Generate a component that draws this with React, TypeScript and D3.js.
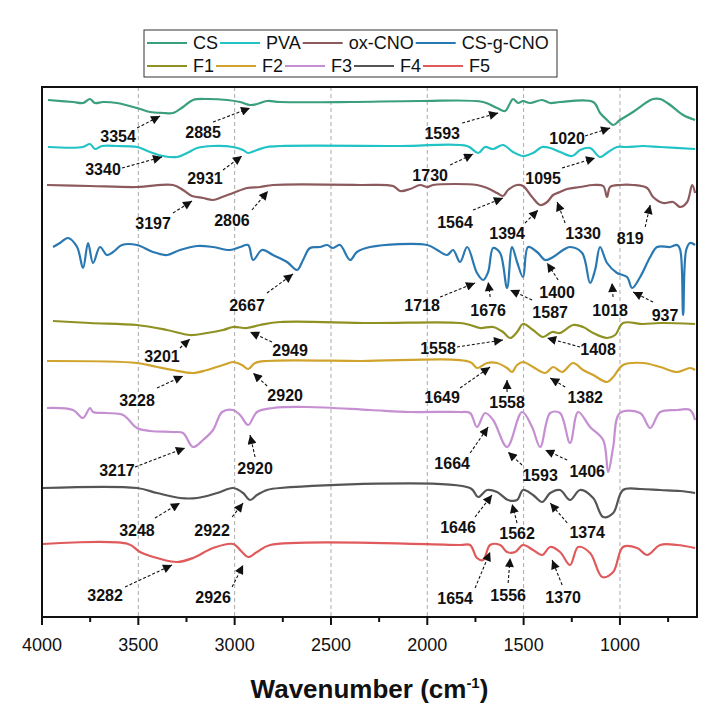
import React from "react";
import * as d3 from "d3";

// ---- axis ----
const xTicksMajor = [4000, 3500, 3000, 2500, 2000, 1500, 1000];
const xTicksMinor = [3750, 3250, 2750, 2250, 1750, 1250, 750];
const gridLines = [3500, 3000, 2500, 2000, 1500, 1000];

// ---- series (wavenumber, relative transmittance) ----
const seriesNames = ["CS", "PVA", "ox-CNO", "CS-g-CNO", "F1", "F2", "F3", "F4", "F5"];
const seriesColors = ["#3a9f7b", "#22c3c6", "#8c5a5c", "#2a78b2", "#8f9122", "#d0a42c", "#c58fd2", "#555555", "#e05a5c"];
const seriesOffsets = [515, 471, 432, 372, 294, 256, 209, 129, 73];

const csData = [[3969,2],[3839,0],[3787,-1],[3751,3],[3725,-1],[3683,0],[3611,-1],[3507,-6],[3439,-10],[3372,-11],[3320,-11],[3268,-5],[3216,2],[3143,3],[3039,2],[2972,0],[2920,-3],[2884,-2],[2832,1],[2764,0],[2401,0],[2037,1],[1710,0],[1638,-6],[1596,-9],[1570,-1],[1555,3],[1529,-1],[1503,1],[1467,-1],[1404,2],[1362,-1],[1311,0],[1139,0],[1103,-11],[1067,-18],[1035,-23],[1000,-18],[932,-10],[859,0],[828,3],[791,3],[739,-3],[672,-13],[610,-18]];
const pvaData = [[3969,-1],[3787,-1],[3751,2],[3725,-3],[3688,0],[3611,0],[3507,-1],[3439,-6],[3372,-10],[3299,-11],[3247,-7],[3195,-2],[3112,0],[3008,-1],[2956,-4],[2930,-7],[2884,-4],[2832,-1],[2764,0],[2141,0],[1793,0],[1736,-7],[1700,-1],[1658,-3],[1607,1],[1555,-6],[1503,-10],[1451,-7],[1404,-1],[1362,-2],[1311,-6],[1248,-10],[1207,-4],[1155,-2],[1103,-11],[1061,-6],[1015,-1],[963,-1],[880,0],[791,-1],[610,-3]];
const oxData = [[3974,0],[3751,-1],[3507,-2],[3320,0],[3268,-5],[3221,-11],[3164,-13],[3112,-15],[3065,-12],[3008,-8],[2936,-3],[2868,-2],[2801,0],[2349,0],[2178,-1],[2141,-6],[2089,-4],[2037,0],[2001,-2],[1970,0],[1742,0],[1690,-3],[1638,-8],[1607,-11],[1581,-5],[1534,0],[1503,-1],[1456,-12],[1414,-20],[1378,-17],[1347,-10],[1311,-7],[1274,-4],[1207,-2],[1139,0],[1087,-1],[1067,-12],[1051,-2],[1000,0],[932,0],[859,-3],[828,-12],[776,-18],[724,-17],[687,-22],[651,-17],[625,0],[610,-8]];
const csgData = [[3943,-2],[3907,2],[3865,7],[3818,-2],[3787,-23],[3761,2],[3735,-18],[3699,-2],[3663,-10],[3631,-7],[3585,0],[3507,0],[3424,-7],[3351,-10],[3284,-5],[3195,-1],[3112,-2],[3024,-5],[2972,-2],[2930,0],[2904,-15],[2858,-5],[2801,-10],[2728,-17],[2676,-25],[2645,-15],[2609,-3],[2557,-2],[2520,0],[2489,-3],[2453,0],[2401,-15],[2365,-7],[2297,-2],[2001,0],[1949,-5],[1897,-10],[1866,-5],[1830,-17],[1793,-2],[1742,-28],[1710,-35],[1684,-27],[1658,-3],[1622,-8],[1586,-43],[1560,-2],[1534,-17],[1503,-32],[1477,-2],[1430,-7],[1388,-15],[1347,-12],[1295,-5],[1259,-2],[1196,-8],[1155,-38],[1129,-25],[1103,-2],[1067,-18],[1015,-28],[963,-32],[937,-43],[895,-32],[843,-12],[807,-2],[739,-2],[703,0],[687,-5],[672,-70],[656,-5],[636,2],[610,0]];
const f1Data = [[3943,2],[3751,0],[3507,-2],[3351,-7],[3232,-12],[3143,-10],[3060,-7],[3008,-4],[2936,-5],[2868,-2],[2764,1],[2297,0],[1830,0],[1778,-2],[1726,-5],[1658,-4],[1607,-9],[1570,-15],[1534,-9],[1503,-1],[1451,-7],[1399,-14],[1352,-9],[1311,-10],[1243,-2],[1191,-4],[1139,-10],[1067,-15],[1025,-12],[984,0],[880,-1],[791,0],[610,-1]];
const f2Data = [[3974,0],[3507,-2],[3403,-6],[3320,-9],[3216,-12],[3143,-9],[3060,-4],[3008,-1],[2962,-4],[2930,-8],[2894,-2],[2832,0],[2349,0],[1778,-1],[1742,-7],[1690,-2],[1638,-2],[1586,-7],[1560,-11],[1534,-4],[1503,-1],[1451,-6],[1388,-12],[1347,-6],[1300,-11],[1243,-2],[1191,-9],[1139,-14],[1067,-21],[1035,-16],[984,-4],[880,-2],[791,-6],[703,-11],[636,-7],[610,-9]];
const f3Data = [[3974,0],[3839,-2],[3787,-10],[3751,0],[3735,-4],[3663,-5],[3579,-7],[3507,-20],[3439,-23],[3320,-24],[3268,-25],[3216,-39],[3164,-32],[3112,-22],[3065,-4],[3008,-2],[2972,-7],[2930,-17],[2884,-4],[2801,0],[2624,1],[2297,-2],[2089,-4],[1830,-4],[1778,-5],[1742,-19],[1700,-5],[1658,-12],[1586,-39],[1508,-4],[1456,-19],[1414,-39],[1362,-5],[1311,-5],[1259,-35],[1217,-4],[1155,-19],[1087,-32],[1061,-64],[1035,-39],[1000,-5],[895,-5],[843,-20],[791,-4],[703,-2],[636,-2],[610,-12]];
const f4Data = [[3995,0],[3507,0],[3403,-5],[3284,-10],[3195,-10],[3091,-5],[3008,0],[2956,-5],[2920,-12],[2884,-7],[2832,-2],[2764,0],[1778,0],[1736,-9],[1690,-2],[1638,-4],[1581,-12],[1534,-12],[1503,-2],[1451,-7],[1404,-14],[1362,-5],[1311,-2],[1259,-12],[1207,-2],[1139,-10],[1087,-29],[1035,-25],[984,-2],[895,-1],[791,-2],[687,-3],[610,-5]];
const f5Data = [[3995,0],[3553,0],[3491,-8],[3403,-14],[3299,-18],[3216,-14],[3112,-4],[3008,0],[2962,-8],[2930,-13],[2884,-8],[2816,-1],[1830,-1],[1778,-1],[1742,-14],[1710,-16],[1674,-1],[1622,-1],[1586,-8],[1544,-8],[1503,-1],[1451,-6],[1404,-11],[1362,-3],[1311,-8],[1259,-21],[1217,-3],[1155,-9],[1092,-33],[1035,-28],[984,-3],[911,-4],[859,-11],[791,-1],[703,-1],[610,-4]];
const seriesData = [csData, pvaData, oxData, csgData, f1Data, f2Data, f3Data, f4Data, f5Data];

// ---- peak annotations: label, tip wavenumber, tip value, text dx/dy, tail dx/dy ----
const peakLabels = ["3354","2885","3340","2931","3197","2806","2667","1593","1020","1730","1095","1564","1394","1330","819","1718","1676","1587","1400","1018","937","3201","2949","3228","2920","3217","2920","3248","2922","3282","2926","1558","1408","1649","1558","1382","1664","1593","1406","1646","1562","1374","1654","1556","1370"];
const peakTips = [[3387,501],[2920,509],[3377,460],[2962,461],[3221,416],[2827,426],[2697,343],[1632,504],[1051,489],[1762,463],[1129,459],[1607,419],[1425,407],[1326,415],[843,412],[1752,334],[1684,335],[1570,327],[1378,354],[1041,334],[932,325],[3232,278],[2920,285],[3268,241],[2904,244],[3258,169],[2920,182],[3284,114],[2956,114],[3325,52],[2956,52],[1607,277],[1378,279],[1674,250],[1586,237],[1362,239],[1684,190],[1581,165],[1388,167],[1664,122],[1560,113],[1362,114],[1674,65],[1570,59],[1352,57]];
const peakTextOffsets = [[-42,20],[-47,24],[-59,12],[-37,22],[-39,22],[-36,29],[-46,31],[-56,20],[-43,10],[-43,21],[-52,20],[-48,24],[-31,23],[26,31],[-20,33],[-53,22],[0,28],[40,22],[10,29],[-2,27],[32,23],[-28,17],[40,18],[-46,24],[32,22],[-68,22],[5,33],[-43,27],[-31,27],[-67,30],[-30,32],[-65,8],[51,11],[-48,30],[0,22],[35,19],[-36,36],[32,23],[42,21],[-34,32],[5,29],[37,29],[-35,46],[-2,37],[11,37]];
const peakTailOffsets = [[-23,12],[-37,14],[-40,11],[-19,14],[-19,12],[-16,19],[-26,19],[-36,10],[-25,8],[-23,11],[-33,10],[-30,12],[-13,13],[8,21],[-5,22],[-35,14],[2,15],[22,10],[11,17],[1,14],[20,10],[-10,9],[22,10],[-26,12],[14,13],[-50,19],[5,22],[-25,15],[-11,14],[-47,22],[-11,22],[-46,7],[33,9],[-30,21],[0,12],[15,9],[-18,26],[14,13],[22,10],[-17,22],[5,19],[17,20],[-15,36],[-2,25],[10,25]];

const W = 713, H = 719;
const M = { left: 42, right: 697, top: 87, bottom: 617 };

function measure(text: string, font: string): number {
  const c = document.createElement("canvas").getContext("2d");
  if (!c) return text.length * 10;
  c.font = font;
  return c.measureText(text).width;
}

export default function App() {
  const x = d3.scaleLinear().domain([4000, 600]).range([M.left, M.right]);
  const y = d3.scaleLinear().domain([0, 530]).range([M.bottom, M.top]);

  const line = d3.line<number[]>()
    .x((d) => x(d[0]))
    .y((d) => y(d[1]))
    .curve(d3.curveCatmullRom.alpha(0.5));

  // legend layout
  const legendFont = "18px Arial, 'Liberation Sans', sans-serif";
  const rows = [[0, 1, 2, 3], [4, 5, 6, 7, 8]];
  const legendItems: { i: number; lx: number; ly: number }[] = [];
  rows.forEach((row, r) => {
    let cx = 147;
    row.forEach((i) => {
      legendItems.push({ i, lx: cx, ly: 43 + r * 23 });
      cx += 40 + 6 + measure(seriesNames[i], legendFont) + 2;
    });
  });

  return (
    <svg width={W} height={H} style={{ position: "absolute", left: 0, top: 0, display: "block", background: "#fff" }}
      fontFamily="Arial, 'Liberation Sans', sans-serif">
      <defs>
        <marker id="ah" viewBox="0 0 10 10" refX="10" refY="5" markerWidth="11" markerHeight="9"
          markerUnits="userSpaceOnUse" orient="auto">
          <path d="M0,0 L10,5 L0,10 Z" fill="#111" />
        </marker>
      </defs>

      {/* legend */}
      <rect x={144} y={30} width={413} height={47} fill="#fff" stroke="#333" strokeWidth={1} />
      {legendItems.map(({ i, lx, ly }) => (
        <g key={"lg" + i}>
          <line x1={lx} x2={lx + 40} y1={ly} y2={ly} stroke={seriesColors[i]} strokeWidth={2} />
          <text x={lx + 46} y={ly} dy="0.36em" fontSize={18} fill="#111">{seriesNames[i]}</text>
        </g>
      ))}

      {/* gridlines */}
      {gridLines.map((g) => (
        <line key={"g" + g} x1={x(g)} x2={x(g)} y1={M.top} y2={M.bottom} stroke="#aaa" strokeWidth={1} strokeDasharray="4,3" />
      ))}

      {/* spectra */}
      {seriesData.map((data, i) => (
        <path key={"s" + i}
          d={line(data.map((d) => [d[0], d[1] + seriesOffsets[i]])) || ""}
          fill="none" stroke={seriesColors[i]} strokeWidth={2.2} strokeLinejoin="round" />
      ))}

      {/* annotations */}
      {peakLabels.map((lab, k) => {
        const tx = x(peakTips[k][0]);
        const ty = y(peakTips[k][1]);
        return (
          <g key={"a" + k}>
            <line x1={tx + peakTailOffsets[k][0]} y1={ty + peakTailOffsets[k][1]} x2={tx} y2={ty}
              stroke="#111" strokeWidth={1.1} strokeDasharray="3,2" markerEnd="url(#ah)" />
            <text x={tx + peakTextOffsets[k][0]} y={ty + peakTextOffsets[k][1]} dy="0.36em"
              textAnchor="middle" fontSize={16} fontWeight="bold" fill="#111">{lab}</text>
          </g>
        );
      })}

      {/* frame */}
      <rect x={M.left} y={M.top} width={M.right - M.left} height={M.bottom - M.top} fill="none" stroke="#111" strokeWidth={2} />

      {/* x axis ticks */}
      {xTicksMajor.map((t) => (
        <g key={"t" + t}>
          <line x1={x(t)} x2={x(t)} y1={M.bottom} y2={M.bottom + 8} stroke="#111" strokeWidth={2} />
          <text x={x(t)} y={M.bottom + 34} textAnchor="middle" fontSize={18} fill="#111">{t}</text>
        </g>
      ))}
      {xTicksMinor.map((t) => (
        <line key={"m" + t} x1={x(t)} x2={x(t)} y1={M.bottom} y2={M.bottom + 5} stroke="#111" strokeWidth={2} />
      ))}

      <text x={(M.left + M.right) / 2} y={698} textAnchor="middle" fontSize={26} fontWeight="bold" fill="#111">
        Wavenumber (cm<tspan dy={-10} fontSize={15}>-1</tspan><tspan dy={10}>)</tspan>
      </text>
    </svg>
  );
}
